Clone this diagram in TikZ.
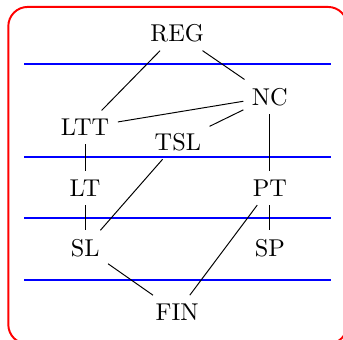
\documentclass[tikz,border=0pt]{standalone}
\usepackage{amsmath}
\usepackage{tikz}
\usepackage{xcolor}

\begin{document}
\begin{tikzpicture}[
    cls/.style={inner sep=0.333em},
    sepline/.style={blue, thick},
    frame/.style={red, thick, rounded corners=0.28cm}
  ]
        % Fix the size of the picture
        \useasboundingbox (0,0) rectangle (4.957,-4.913);

        % Red frame round everything (cut at the right and bottom)
        \draw[frame] (0.12,-0.10) rectangle (5.02,-4.97);

        % Blue lines between the levels
        \draw[sepline] (0.35,-0.92) -- (4.78,-0.92);
        \draw[sepline] (0.35,-2.27) -- (4.78,-2.27);
        \draw[sepline] (0.35,-3.15) -- (4.78,-3.15);
        \draw[sepline] (0.35,-4.05) -- (4.78,-4.05);

        % The classes
        \node[cls] (reg) at (2.56,-0.48) {REG};
        \node[cls] (nc) at (3.90,-1.40) {NC};
        \node[cls] (ltt) at (1.23,-1.84) {LTT};
        \node[cls] (tsl) at (2.57,-2.05) {TSL};
        \node[cls] (lt) at (1.23,-2.72) {LT};
        \node[cls] (pt) at (3.90,-2.72) {PT};
        \node[cls] (sl) at (1.23,-3.58) {SL};
        \node[cls] (sp) at (3.90,-3.58) {SP};
        \node[cls] (fin) at (2.56,-4.51) {FIN};

        % Inclusions
        \draw (reg) -- (ltt);
        \draw (reg) -- (nc);
        \draw (ltt) -- (nc);
        \draw (tsl) -- (nc);
        \draw (ltt) -- (lt);
        \draw (nc) -- (pt);
        \draw (tsl) -- (sl);
        \draw (lt) -- (sl);
        \draw (pt) -- (sp);
        \draw (pt) -- (fin);
        \draw (sl) -- (fin);

    \end{tikzpicture}
\end{document}
